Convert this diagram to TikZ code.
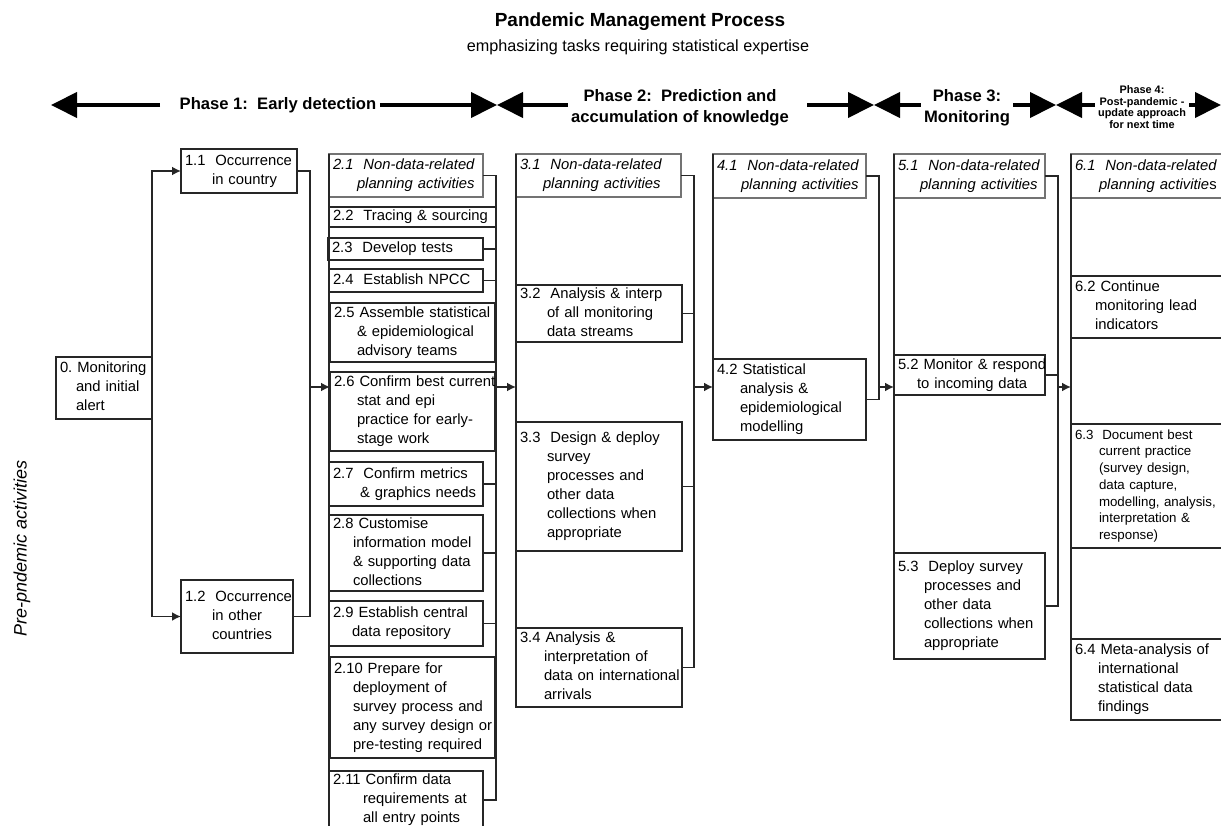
\documentclass[tikz,border=0pt]{standalone}
\usepackage{fontspec}
\setmainfont{Liberation Sans}
\usetikzlibrary{arrows.meta}
\setlength{\parindent}{0pt}
\frenchspacing
% Einzug der Folgezeilen
\newlength{\tkind}
\newcommand{\tk}[2][22pt]{\setlength{\tkind}{#1}\begin{tabular}{@{}l@{}}#2\end{tabular}}
\newcommand{\tkn}{\\\hspace*{\tkind}}

\begin{document}
\begin{tikzpicture}[x=1pt,y=-1pt,
	task/.style={draw=black!85,line width=1.8pt,anchor=north west,outer sep=0pt,
		inner xsep=4pt,inner ysep=0pt,align=left,font=\fontsize{14.8}{19}\selectfont},
	plan/.style={task,draw=black!55,line width=1.1pt,font=\fontsize{14.8}{19}\selectfont\itshape},
	sz/.style 2 args={text width=#1,minimum height=#2},
	link/.style={draw=black!85,line width=1.8pt},
	feed/.style={link,-{Latex[length=9pt,width=9pt]}},
	phase/.style={align=center,font=\fontsize{16.6}{21}\selectfont\bfseries},
	bigarr/.style={line width=4pt,-{Triangle[length=26pt,width=25pt]}}]
	
	\useasboundingbox (0,0) rectangle (1221,826);
	\clip (0,0) rectangle (1221,826);
	
	% Titel
	\node (ttl) at (640,22) {\fontsize{19}{22}\selectfont\bfseries Pandemic Management Process};
	\node (sub) at (638,47) {\fontsize{16.2}{19}\selectfont emphasizing tasks requiring statistical expertise};
	
	% Phasen mit Pfeilen
	\coordinate (p0) at (51,105);
	\coordinate (p12) at (497,105);
	\coordinate (p23) at (874,105);
	\coordinate (p34) at (1056,105);
	\coordinate (p4) at (1221,105);
	\node[phase] (ph1) at (278,105) {Phase 1:\ \ Early detection};
	\node[phase] (ph2) at (680,108) {Phase 2:\ \ Prediction and\\accumulation of knowledge};
	\node[phase] (ph3) at (967,108) {Phase 3:\\Monitoring};
	\node[phase,font=\fontsize{10.9}{11.5}\selectfont\bfseries] (ph4) at (1142,107) {Phase 4:\\Post-pandemic -\\update approach\\for next time};
	\draw[bigarr] ([xshift=-16pt]ph1.west) -- (p0);
	\draw[bigarr] (ph1.east) -- (p12);
	\draw[bigarr] (ph2.west |- p12) -- (p12);
	\draw[bigarr] ([xshift=15pt]ph2.east |- p23) -- (p23);
	\draw[bigarr] (ph3.west |- p23) -- (p23);
	\draw[bigarr] (ph3.east |- p34) -- (p34);
	\draw[bigarr] (ph4.west |- p34) -- (p34);
	\draw[bigarr] (ph4.east |- p4) -- (p4);
	
	\node[rotate=90,font=\fontsize{18}{20}\selectfont\itshape] (pre) at (22,548) {Pre-pndemic activities};
	
	% Start und Phase 1
	\node[task,sz={88pt}{62pt}] (t0) at (56,357) {\tk[16pt]{0. Monitoring\tkn and initial\tkn alert}};
	\node[task,sz={108pt}{44pt}] (t11) at (181,149) {\tk[27pt]{1.1~ Occurrence\tkn in country}};
	\node[task,sz={104pt}{73pt}] (t12) at (181,580) {\tk[27pt]{1.2~ Occurrence\tkn in other\tkn countries}};
	
	% Spalte 2
	\node[plan,sz={146pt}{43pt}] (t21) at (329,154) {\tk[24pt]{2.1~ Non-data-related\tkn planning activities}};
	\node[task,sz={159pt}{20pt}] (t22) at (329,207) {\tk{2.2~ Tracing \& sourcing}};
	\node[task,sz={147pt}{22pt}] (t23) at (328,238) {\tk{2.3~ Develop tests}};
	\node[task,sz={146pt}{23pt}] (t24) at (329,269) {\tk{2.4~ Establish NPCC}};
	\node[task,sz={157pt}{59pt}] (t25) at (330,303) {\tk[23pt]{2.5 Assemble statistical\tkn \& epidemiological\tkn advisory teams}};
	\node[task,sz={157pt}{79pt}] (t26) at (330,372) {\tk[23pt]{2.6 Confirm best current\tkn stat and epi\tkn practice for early-\tkn stage work}};
	\node[task,sz={146pt}{44pt}] (t27) at (329,462) {\tk[27pt]{2.7~ Confirm metrics\tkn \& graphics needs}};
	\node[task,sz={146pt}{74pt}] (t28) at (329,515) {\tk[20pt]{2.8 Customise\tkn information model\tkn \& supporting data\tkn collections}};
	\node[task,sz={146pt}{45pt}] (t29) at (329,601) {\tk[19pt]{2.9 Establish central\tkn data repository}};
	\node[task,line width=1.4pt,sz={157pt}{101pt}] (t210) at (330,657) {\tk[19pt]{2.10 Prepare for\tkn deployment of\tkn survey process and\tkn any survey design or\tkn pre-testing required}};
	\node[task,sz={146pt}{58pt}] (t211) at (329,771) {\tk[30pt]{2.11 Confirm data\tkn requirements at\tkn all entry points}};
	
	% Spalte 3
	\node[plan,sz={157pt}{43pt}] (t31) at (516,154) {\tk[23pt]{3.1~ Non-data-related\tkn planning activities}};
	\node[task,sz={158pt}{56pt}] (t32) at (516,285) {\tk[27pt]{3.2~ Analysis \& interp\tkn of all monitoring\tkn data streams}};
	\node[task,sz={158pt}{129pt}] (t33) at (516,422) {\tk[27pt]{3.3~ Design \& deploy\tkn survey\tkn processes and\tkn other data\tkn collections when\tkn appropriate}};
	\node[task,sz={158pt}{79pt}] (t34) at (516,628) {\tk[24pt]{3.4 Analysis \&\tkn interpretation of\tkn data on international\tkn arrivals}};
	
	% Spalte 4
	\node[plan,sz={145pt}{44pt}] (t41) at (713,154) {\tk[24pt]{4.1~ Non-data-related\tkn planning activities}};
	\node[task,sz={145pt}{81pt}] (t42) at (713,359) {\tk[23pt]{4.2 Statistical\tkn analysis \&\tkn epidemiological\tkn modelling}};
	
	% Spalte 5
	\node[plan,sz={143pt}{44pt}] (t51) at (894,154) {\tk[22pt]{5.1~ Non-data-related\tkn planning activities}};
	\node[task,sz={143pt}{40pt}] (t52) at (894,355) {\tk[19pt]{5.2 Monitor \& respond\tkn to incoming data}};
	\node[task,sz={143pt}{106pt}] (t53) at (894,553) {\tk[26pt]{5.3~ Deploy survey\tkn processes and\tkn other data\tkn collections when\tkn appropriate}};
	
	% Spalte 6
	\node[plan,sz={162pt}{44pt}] (t61) at (1071,154) {\tk[24pt]{6.1~ Non-data-related\tkn planning activitie{\upshape s}}};
	\node[task,sz={162pt}{62pt}] (t62) at (1071,276) {\tk[20pt]{6.2 Continue\tkn monitoring lead\tkn indicators}};
	\node[task,sz={162pt}{124pt},font=\fontsize{13.3}{16.7}\selectfont] (t63) at (1071,424) {\tk[24pt]{6.3~ Document best\tkn current practice\tkn (survey design,\tkn data capture,\tkn modelling, analysis,\tkn interpretation \&\tkn response)}};
	\node[task,sz={162pt}{81pt}] (t64) at (1071,639) {\tk[23pt]{6.4 Meta-analysis of\tkn international\tkn statistical data\tkn findings}};
	
	% linke Kanten der Spalten
	\draw[link] (t21.north west) -- (t21.north west |- t211.south west);
	\draw[link] (t31.north west) -- (t34.south west);
	\draw[link] (t41.north west) -- (t42.south west);
	\draw[link] (t51.north west) -- (t53.south west);
	\draw[link,line width=2.4pt] (t61.north west) -- (t64.south west);
	
	% Verbindungen
	\coordinate (m) at (0,387);
	\coordinate (b1) at (310,0);
	\coordinate (b2) at (496,0);
	\coordinate (b3) at (694,0);
	\coordinate (b4) at (879,0);
	\coordinate (b5) at (1058,0);
	
	\draw[feed] (t0.north east) |- (t11.west);
	\draw[feed] (t0.south east) |- (t12.west);
	\draw[link] (t11.east) -- (t11.east -| b1) -- (t12.east -| b1) -- (t12.east);
	\draw[feed] (b1 |- m) -- (t26.west |- m);
	
	\draw[link] (t21.east) -- (t21.east -| b2) -- (t211.east -| b2) -- (t211.east);
	\foreach \n in {23,24,27,28,29}
	\draw[link] (t\n.east) -- (t\n.east -| b2);
	\draw[feed] (b2 |- m) -- (t31.west |- m);
	
	\draw[link] (t31.east) -- (t31.east -| b3) -- (t34.east -| b3) -- (t34.east);
	\foreach \n in {32,33}
	\draw[link] (t\n.east) -- (t\n.east -| b3);
	\draw[feed] (b3 |- m) -- (t42.west |- m);
	
	\draw[link] (t41.east) -- (t41.east -| b4) -- (t42.east -| b4) -- (t42.east);
	\draw[feed] (b4 |- m) -- (t52.west |- m);
	
	\draw[link] (t51.east) -- (t51.east -| b5) -- (t53.east -| b5) -- (t53.east);
	\draw[link] (t52.east) -- (t52.east -| b5);
	\draw[feed] (b5 |- m) -- (t61.west |- m);
\end{tikzpicture}
\end{document}
